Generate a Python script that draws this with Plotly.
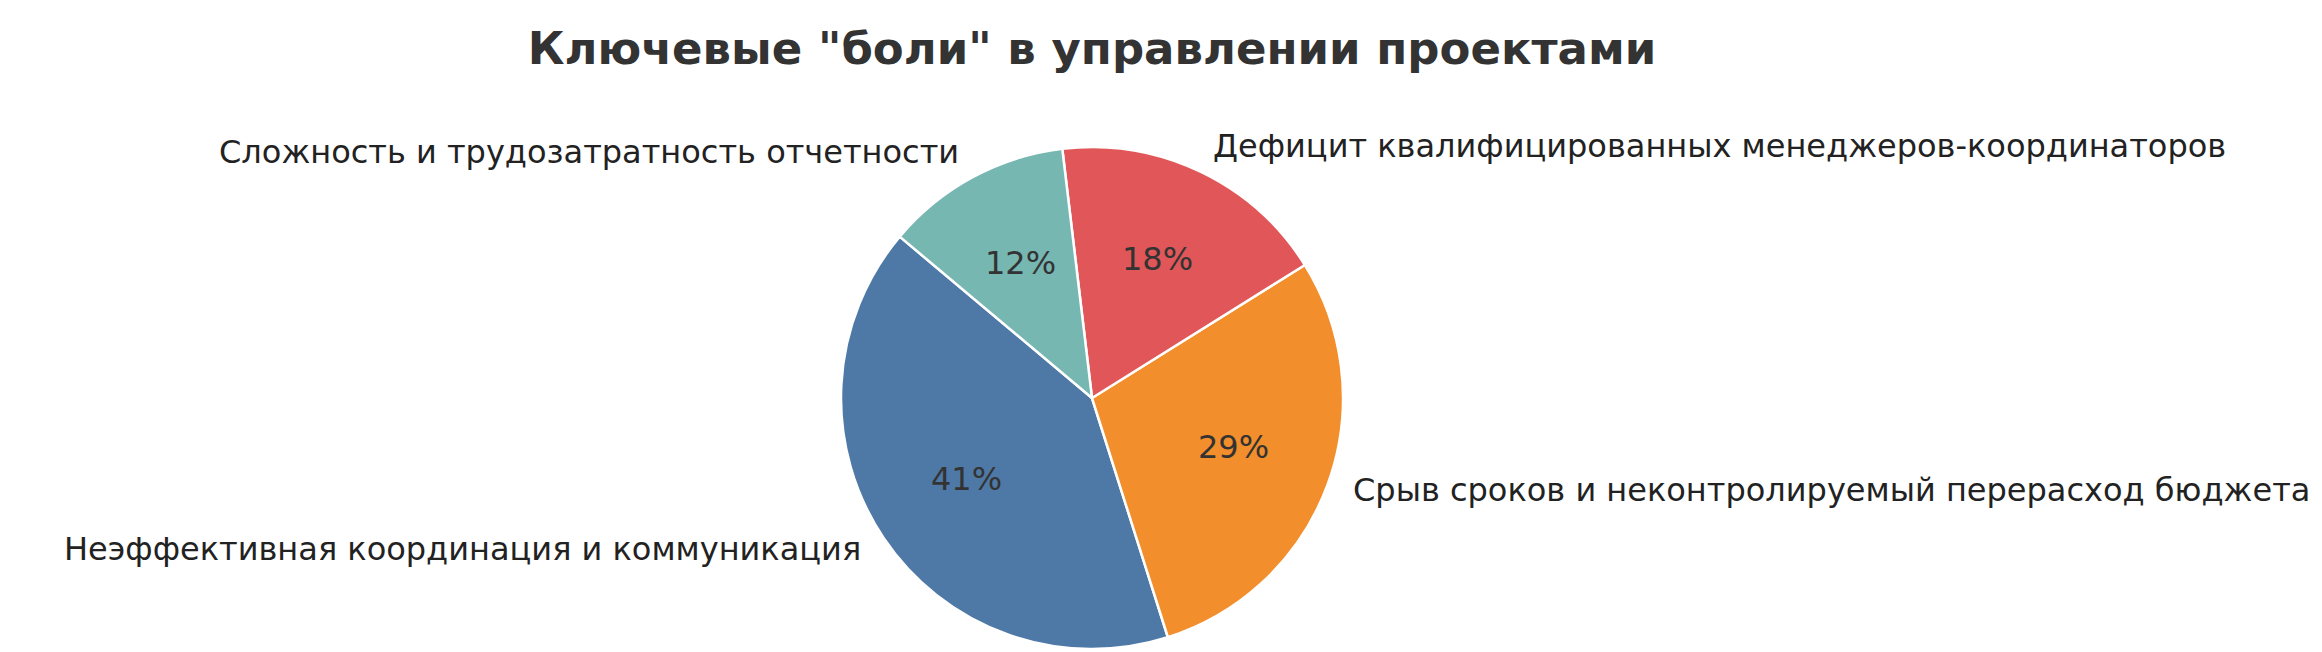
import math
import plotly.graph_objects as go

labels = [
    "Неэффективная координация и коммуникация",
    "Срыв сроков и неконтролируемый перерасход бюджета",
    "Дефицит квалифицированных менеджеров-координаторов",
    "Сложность и трудозатратность отчетности",
]
values = [41, 29, 18, 12]
colors = ["#4e79a7", "#f28e2b", "#e15759", "#76b7b2"]
title = 'Ключевые "боли" в управлении проектами'

W, H = 2322, 652
cx, cy, r = 1084, 262, 251  # pie centre (px from left / bottom) and radius
start_angle = 140  # degrees, counterclockwise

total = sum(values)
first_end = start_angle + 360 * values[0] / total

fig = go.Figure()
fig.add_trace(go.Pie(
    labels=labels, values=values, sort=False,
    direction="counterclockwise", rotation=90 - first_end,
    marker=dict(colors=colors, line=dict(color="white", width=2.5)),
    textinfo="none", hoverinfo="label+percent", showlegend=False,
    domain=dict(x=[(cx - r) / W, (cx + r) / W], y=[(cy - r) / H, (cy + r) / H]),
))

annotations = []
acc = 0.0
for lab, v in zip(labels, values):
    mid = math.radians(start_angle + 360 * (acc + v / 2) / total)
    acc += v
    ca, sa = math.cos(mid), math.sin(mid)
    # outer label
    annotations.append(dict(
        x=(cx + 1.1 * r * ca) / W, y=(cy + 1.1 * r * sa) / H,
        xref="paper", yref="paper", showarrow=False, yshift=3,
        text=lab, xanchor="left" if ca >= 0 else "right", yanchor="middle",
        font=dict(family="DejaVu Sans", size=32, color="#222222"),
    ))
    # percent label
    annotations.append(dict(
        x=(cx + 0.6 * r * ca) / W, y=(cy + 0.6 * r * sa) / H,
        xref="paper", yref="paper", showarrow=False, yshift=3,
        text=f"{round(100 * v / total)}%", xanchor="center", yanchor="middle",
        font=dict(family="DejaVu Sans", size=32, color="#333333"),
    ))

fig.update_layout(
    width=W, height=H,
    margin=dict(l=0, r=0, t=0, b=0),
    paper_bgcolor="white", plot_bgcolor="white",
    title=dict(text=f"<b>{title}</b>", x=cx / W, xanchor="center",
               y=1 - 40 / H, yanchor="middle",
               font=dict(family="DejaVu Sans", size=45, color="#333333")),
    annotations=annotations,
)

fig.write_html("out.html")
